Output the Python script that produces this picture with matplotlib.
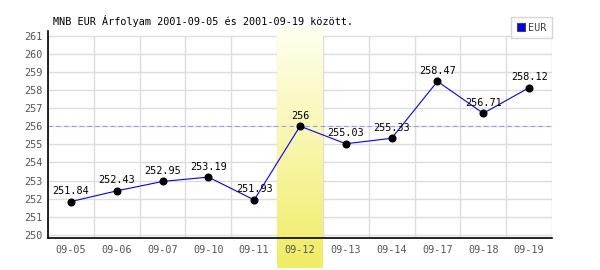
import matplotlib
matplotlib.use("Agg")
import matplotlib.pyplot as plt
import numpy as np
from matplotlib.lines import Line2D

dates = ["09-05", "09-06", "09-07", "09-10", "09-11", "09-12",
         "09-13", "09-14", "09-17", "09-18", "09-19"]
values = [251.84, 252.43, 252.95, 253.19, 251.93, 256.00,
          255.03, 255.33, 258.47, 256.71, 258.12]
labels = ["251.84", "252.43", "252.95", "253.19", "251.93", "256",
          "255.03", "255.33", "258.47", "256.71", "258.12"]
yticks = list(range(250, 262))
highlight = "09-12"
title = "MNB EUR Árfolyam 2001-09-05 és 2001-09-19 között."
series_name = "EUR"

FONT = "DejaVu Sans Mono"
FS = 7.3

fig = plt.figure(figsize=(6, 2.7), dpi=100)
ax = fig.add_axes([48/600, 1-238/270, 504/600, (238-31)/270])
ymin, ymax = 249.83, 261.25
ax.set_xlim(-0.5, len(dates)-0.5)
ax.set_ylim(ymin, ymax)

x = np.arange(len(dates))
grid_c = "#dddddd"
for yt in yticks:
    ax.plot([-0.5, len(dates)-0.5], [yt, yt], color=grid_c, lw=1.0, zorder=0.1)
for b in np.arange(-0.5, len(dates), 1.0):
    ax.plot([b, b], [ymin, yticks[-1]], color=grid_c, lw=1.0, zorder=0.1)

hi = dates.index(highlight)
px_per_unit = (238-31)/(ymax-ymin)
band_top = ymax + 4/px_per_unit
band_bot = ymin - 30/px_per_unit
grad = np.linspace(0, 1, 256).reshape(-1, 1)
top_c = np.array([255, 255, 240]) / 255
bot_c = np.array([240, 236, 100]) / 255
img = top_c[None, None, :] * (1-grad[..., None]) + bot_c[None, None, :] * grad[..., None]
ax.imshow(img, extent=[hi-0.5, hi+0.5, band_bot, band_top], aspect="auto",
          origin="upper", zorder=0.2, clip_on=False, interpolation="bilinear")
ax.set_xlim(-0.5, len(dates)-0.5)
ax.set_ylim(ymin, ymax)

ax.plot([-0.5, len(dates)-0.5], [values[hi], values[hi]], color="#9999ff",
        lw=0.8, ls=(0, (4, 3)), zorder=1)

ax.plot(x, values, color="#0000ff", lw=0.8, zorder=2)
ax.plot(x, values, ls="none", marker="o", ms=4.8, color="black", zorder=3)
for xi, v, lab in zip(x, values, labels):
    ax.annotate(lab, (xi, v), xytext=(0, 4.0), textcoords="offset points",
                ha="center", va="bottom", fontsize=FS, family=FONT,
                color="black", zorder=4)

ax.set_xticks(x)
ax.set_xticklabels(dates)
ax.set_yticks(yticks)
ax.tick_params(axis="both", length=0, labelsize=FS, labelcolor="#555555")
ax.tick_params(axis="x", pad=5)
ax.tick_params(axis="y", pad=4)
for t in ax.get_xticklabels() + ax.get_yticklabels():
    t.set_family(FONT)
for s in ["top", "right"]:
    ax.spines[s].set_visible(False)
ax.spines["left"].set_color("black")
ax.spines["bottom"].set_color("black")
ax.spines["left"].set_linewidth(1.2)
ax.spines["bottom"].set_linewidth(1.2)
ax.patch.set_alpha(0)

fig.text(53/600, 1-21/270, title, fontsize=FS, family=FONT, color="black",
         ha="left", va="center")

handle = Line2D([], [], ls="none", marker="s", ms=5.5, mfc="#0000ff", mec="#444444", mew=0.8)
leg = fig.legend([handle], [series_name], loc="upper right",
                 bbox_to_anchor=(552/600, 1-17/270), frameon=True, fancybox=False,
                 borderaxespad=0, borderpad=0.55, handlelength=0.8, handletextpad=0.3,
                 prop={"family": FONT, "size": FS})
leg.get_frame().set_edgecolor("#cccccc")
leg.get_frame().set_linewidth(1.0)
for t in leg.get_texts():
    t.set_color("#444444")

fig.savefig("out.png", dpi=100)
